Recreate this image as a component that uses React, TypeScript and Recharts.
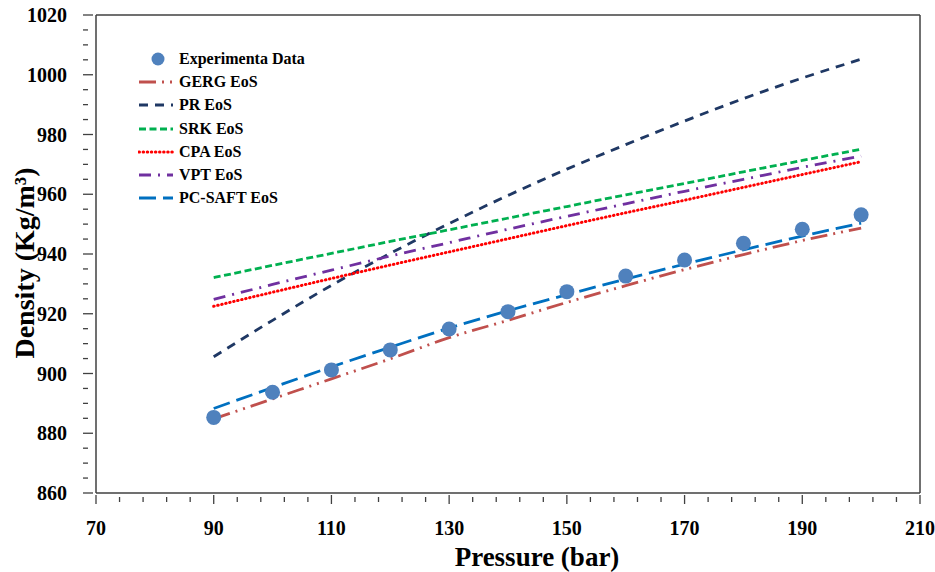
import React from 'react';
import {
  ComposedChart,
  Line,
  Scatter,
  XAxis,
  YAxis,
  Legend,
  ReferenceLine,
} from 'recharts';

const pressure = [90, 100, 110, 120, 130, 140, 150, 160, 170, 180, 190, 200];
const experimental = [885.3, 893.7, 901.2, 907.9, 914.9, 920.7, 927.4, 932.6, 938.0, 943.6, 948.3, 953.1];
const gergEos = [884.8, 891.5, 898.2, 904.9, 912.0, 917.8, 923.8, 929.4, 934.8, 939.8, 944.5, 948.7];
const prEos = [905.6, 917.8, 929.5, 940.2, 950.2, 959.6, 968.4, 976.6, 984.5, 992.0, 998.9, 1005.2];
const srkEos = [932.1, 936.2, 940.2, 944.2, 948.1, 952.0, 955.9, 959.8, 963.6, 967.5, 971.3, 975.1];
const cpaEos = [922.5, 927.2, 931.8, 936.3, 940.7, 945.1, 949.5, 953.8, 958.0, 962.3, 966.6, 970.9];
const vptEos = [924.8, 929.8, 934.6, 939.3, 943.8, 948.3, 952.6, 956.8, 961.0, 965.0, 969.0, 972.8];
const pcSaftEos = [888.3, 895.3, 902.2, 908.8, 915.2, 921.0, 926.4, 931.6, 936.6, 941.4, 946.0, 950.3];

const xTicks = [70, 74, 78, 82, 86, 90, 94, 98, 102, 106, 110, 114, 118, 122, 126, 130, 134, 138, 142, 146, 150, 154, 158, 162, 166, 170, 174, 178, 182, 186, 190, 194, 198, 202, 206, 210];
const xMajor = [70, 90, 110, 130, 150, 170, 190, 210];
const yTicks = [860, 865, 870, 875, 880, 885, 890, 895, 900, 905, 910, 915, 920, 925, 930, 935, 940, 945, 950, 955, 960, 965, 970, 975, 980, 985, 990, 995, 1000, 1005, 1010, 1015, 1020];
const yMajor = [860, 880, 900, 920, 940, 960, 980, 1000, 1020];

const rows = pressure.map((p, i) => ({
  p,
  exp: experimental[i],
  gerg: gergEos[i],
  pr: prEos[i],
  srk: srkEos[i],
  cpa: cpaEos[i],
  vpt: vptEos[i],
  pcsaft: pcSaftEos[i],
}));

const FONT = '"Liberation Serif", "Times New Roman", serif';
const AXIS = '#404040';

const SERIES = [
  { key: 'gerg', name: 'GERG EoS', color: '#C0504D', dash: '17 6 2 6 2 6' },
  { key: 'pr', name: 'PR EoS', color: '#1F3864', dash: '9 7' },
  { key: 'srk', name: 'SRK EoS', color: '#00B050', dash: '7 3.5' },
  { key: 'cpa', name: 'CPA EoS', color: '#FF0000', dash: '0.5 3.6' },
  { key: 'vpt', name: 'VPT EoS', color: '#7030A0', dash: '12 7 2 7' },
  { key: 'pcsaft', name: 'PC-SAFT EoS', color: '#0070C0', dash: '17 7' },
];

function XTick({ x, y, payload }: any) {
  const major = xMajor.includes(payload.value);
  return (
    <g>
      <line x1={x} x2={x} y1={y - (major ? 6 : 4)} y2={y + (major ? 3 : 1)} stroke={AXIS} strokeWidth={1.3} />
      {major && (
        <text x={x} y={y + 34} textAnchor="middle" fontFamily={FONT} fontWeight="bold" fontSize={20} fill="#000">
          {payload.value}
        </text>
      )}
    </g>
  );
}

function YTick({ x, y, payload }: any) {
  const major = yMajor.includes(payload.value);
  return (
    <g>
      <line x1={x - 5} x2={x + (major ? 5 : 0)} y1={y} y2={y} stroke={AXIS} strokeWidth={1.3} />
      {major && (
        <text x={x - 21} y={y + 7} textAnchor="end" fontFamily={FONT} fontWeight="bold" fontSize={20} fill="#000">
          {payload.value}
        </text>
      )}
    </g>
  );
}

function LegendBox() {
  const rowStyle: React.CSSProperties = { display: 'flex', alignItems: 'center', height: 23.3 };
  const textStyle: React.CSSProperties = { fontFamily: FONT, fontWeight: 'bold', fontSize: 16, color: '#000', marginLeft: 5 };
  return (
    <div>
      <div style={rowStyle}>
        <svg width={36} height={16}>
          <circle cx={20} cy={8} r={6.5} fill="#4F81BD" />
        </svg>
        <span style={textStyle}>Experimenta Data</span>
      </div>
      {SERIES.map((s) => (
        <div key={s.key} style={rowStyle}>
          <svg width={36} height={16}>
            <line
              x1={1}
              x2={35}
              y1={8}
              y2={8}
              stroke={s.color}
              strokeWidth={3}
              strokeDasharray={s.dash}
              strokeLinecap={s.key === 'cpa' ? 'round' : 'butt'}
            />
          </svg>
          <span style={textStyle}>{s.name}</span>
        </div>
      ))}
    </div>
  );
}

export default function App() {
  return (
    <div style={{ position: 'absolute', left: 0, top: 0, background: '#fff' }}>
      <ComposedChart
        width={935}
        height={572}
        data={rows}
        margin={{ top: 15, right: 15, left: 0, bottom: 0 }}
      >
        <XAxis
          dataKey="p"
          type="number"
          domain={[70, 210]}
          ticks={xTicks}
          interval={0}
          height={79}
          stroke={AXIS}
          strokeWidth={1.5}
          tickLine={false}
          tick={<XTick />}
          label={{
            value: 'Pressure (bar)',
            position: 'insideBottom',
            offset: 6,
            dx: 29,
            style: { fontFamily: FONT, fontWeight: 'bold', fontSize: 27, fill: '#000' },
          }}
        />
        <YAxis
          type="number"
          domain={[860, 1020]}
          ticks={yTicks}
          interval={0}
          width={96}
          stroke={AXIS}
          strokeWidth={1.5}
          tickLine={false}
          tick={<YTick />}
          label={{
            value: 'Density (Kg/m³)',
            angle: -90,
            position: 'insideLeft',
            offset: 24,
            dy: 9,
            style: { textAnchor: 'middle', fontFamily: FONT, fontWeight: 'bold', fontSize: 28, fill: '#000' },
          }}
        />
        <ReferenceLine y={1020} stroke={AXIS} strokeWidth={1.5} />
        <ReferenceLine x={210} stroke={AXIS} strokeWidth={1.5} />
        <Scatter
          dataKey="exp"
          name="Experimenta Data"
          isAnimationActive={false}
          shape={(props: any) => <circle cx={props.cx} cy={props.cy} r={7.5} fill="#4F81BD" />}
        />
        {SERIES.map((s) => (
          <Line
            key={s.key}
            type="monotone"
            dataKey={s.key}
            name={s.name}
            stroke={s.color}
            strokeWidth={s.key === 'cpa' ? 3 : 2.8}
            strokeDasharray={s.dash}
            strokeLinecap={s.key === 'cpa' ? 'round' : 'butt'}
            dot={false}
            activeDot={false}
            isAnimationActive={false}
          />
        ))}
        <Legend
          layout="vertical"
          align="center"
          verticalAlign="middle"
          wrapperStyle={{ left: 138, top: 47, width: 'auto' }}
          content={() => <LegendBox />}
        />
      </ComposedChart>
    </div>
  );
}
